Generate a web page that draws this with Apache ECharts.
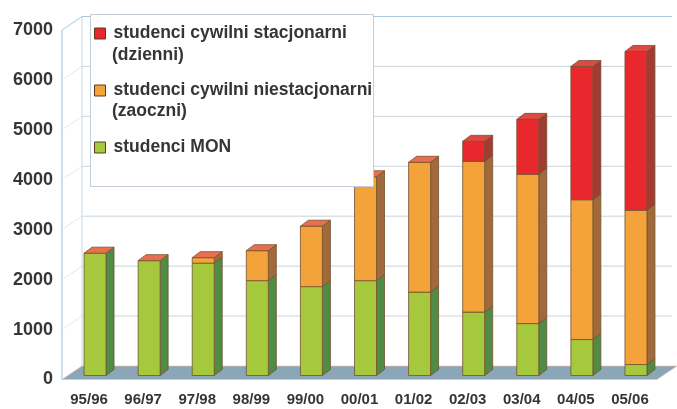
<!DOCTYPE html>
<html>
<head>
<meta charset="utf-8">
<script src="https://cdn.jsdelivr.net/npm/echarts@6/dist/echarts.min.js"></script>
<style>
  html, body { margin: 0; padding: 0; background: #ffffff; }
  #chart { width: 677px; height: 409px; }
</style>
</head>
<body>
<div id="chart"></div>
<script>
// Academic years
const categories = ['95/96', '96/97', '97/98', '98/99', '99/00', '00/01', '01/02', '02/03', '03/04', '04/05', '05/06'];
// Students per group (stacked from the bottom)
const mon = [2450, 2300, 2250, 1900, 1780, 1900, 1670, 1270, 1040, 720, 220];
const niestacjonarni = [0, 0, 110, 600, 1210, 2080, 2600, 3020, 2990, 2800, 3090];
const stacjonarni = [0, 0, 0, 0, 0, 0, 0, 400, 1100, 2670, 3180];
// Value axis ticks
const yTicks = [0, 1000, 2000, 3000, 4000, 5000, 6000, 7000];

const FONT = '"Liberation Sans", Arial, sans-serif';
const TEXT = '#353535';

// Pseudo-3D geometry: depth of the box and of each column
const DX = 20, DY = -13.5;          // wall / floor depth
const BX = 6, BY = -4;              // column front face offset inside the box
const BW = 22;                      // column width
const SX = 8, SY = -6;              // column depth

const groups = [
  { name: 'studenci MON', values: mon, front: '#a6c83c', side: '#4f8c46', cap: '#b8d45a' },
  { name: 'studenci cywilni niestacjonarni', values: niestacjonarni, front: '#f4a23a', side: '#a06a3a', cap: '#f6b45a' },
  { name: 'studenci cywilni stacjonarni', values: stacjonarni, front: '#e8282c', side: '#a03c34', cap: '#dc4a44' }
];

// running base for each stacked group
const bases = [];
groups.forEach((g, gi) => {
  bases.push(categories.map((_, i) => gi === 0 ? 0 : bases[gi - 1][i] + groups[gi - 1].values[i]));
});

const EDGE = '#74502e';

function columnRenderer(gi) {
  const g = groups[gi];
  const isTop = gi === groups.length - 1;
  return function (params, api) {
    const i = api.value(0);
    const v = api.value(1);
    const base = bases[gi][i];
    const pb = api.coord([i, base]);
    const pt = api.coord([i, base + v]);
    const cx = pb[0] + BX;
    const yb = pb[1] + BY;
    const yt = pt[1] + BY;
    const x0 = cx - BW / 2, x1 = cx + BW / 2;
    const children = [];
    if (v > 0) {
      children.push({
        type: 'polygon',
        shape: { points: [[x1, yb], [x1 + SX, yb + SY], [x1 + SX, yt + SY], [x1, yt]] },
        style: { fill: g.side, stroke: EDGE, lineWidth: 0.8 }
      });
      children.push({
        type: 'rect',
        shape: { x: x0, y: yt, width: BW, height: yb - yt },
        style: { fill: g.front, stroke: EDGE, lineWidth: 0.8 }
      });
    }
    if (isTop) {
      children.push({
        type: 'polygon',
        shape: { points: [[x0, yt], [x0 + SX, yt + SY], [x1 + SX, yt + SY], [x1, yt]] },
        style: { fill: v > 0 ? g.cap : '#e8704e', stroke: EDGE, lineWidth: 0.8 }
      });
    }
    return { type: 'group', children: children };
  };
}

// back wall grid lines, left wall and box outline
function wallRenderer(params, api) {
  const cs = params.coordSys;
  const v = api.value(1);
  const y = api.coord([0, v])[1];
  const left = cs.x, right = cs.x + cs.width;
  const maxV = yTicks[yTicks.length - 1];
  const children = [];
  const isTopLine = v === maxV;
  if (v > 0) {
    children.push({
      type: 'line',
      shape: { x1: left + DX, y1: y + DY, x2: right + DX - 5, y2: y + DY },
      style: { stroke: isTopLine ? '#a9c9e0' : '#cbd4dc', lineWidth: 1 }
    });
  }
  children.push({
    type: 'line',
    shape: { x1: left, y1: y, x2: left + DX, y2: y + DY },
    style: { stroke: isTopLine ? '#a9c9e0' : '#eee4e4', lineWidth: 1 }
  });
  if (v === 0) {
    const yTop = api.coord([0, maxV])[1];
    children.push({
      type: 'line',
      shape: { x1: left, y1: yTop, x2: left, y2: y },
      style: { stroke: '#a9c9e0', lineWidth: 1.2 }
    });
    children.push({
      type: 'line',
      shape: { x1: left + DX, y1: yTop + DY, x2: left + DX, y2: y + DY },
      style: { stroke: '#c3d8e8', lineWidth: 1 }
    });
  }
  return { type: 'group', children: children };
}

function floorRenderer(params, api) {
  const cs = params.coordSys;
  const y = api.coord([0, 0])[1];
  const left = cs.x, right = cs.x + cs.width;
  return {
    type: 'polygon',
    shape: { points: [[left, y], [right, y], [right + DX, y + DY], [left + DX, y + DY]] },
    style: { fill: '#8ba7b7', stroke: '#f0c0b0', lineWidth: 0.6 }
  };
}

const series = [
  {
    name: 'walls', type: 'custom', silent: true, z: 1,
    data: yTicks.map(v => [0, v]),
    renderItem: wallRenderer
  },
  {
    name: 'floor', type: 'custom', silent: true, z: 1,
    data: [[0, 0]],
    renderItem: floorRenderer
  }
];
groups.forEach((g, gi) => {
  series.push({
    name: g.name,
    type: 'custom',
    z: 2,
    itemStyle: { color: g.front },
    data: g.values.map((v, i) => [i, v]),
    renderItem: columnRenderer(gi)
  });
});

const chart = echarts.init(document.getElementById('chart'), null, { renderer: 'canvas' });
chart.setOption({
  backgroundColor: '#ffffff',
  animation: false,
  grid: { left: 62, right: 20, top: 30, bottom: 29.5, containLabel: false },
  xAxis: {
    type: 'category',
    data: categories,
    boundaryGap: true,
    axisLine: { show: false },
    axisTick: { show: false },
    axisLabel: {
      margin: 13,
      color: TEXT,
      fontFamily: FONT,
      fontWeight: 'bold',
      fontSize: 15
    },
    splitLine: { show: false }
  },
  yAxis: {
    type: 'value',
    min: 0,
    max: 7000,
    interval: 1000,
    axisLine: { show: false },
    axisTick: { show: false },
    splitLine: { show: false },
    axisLabel: {
      margin: 9,
      color: TEXT,
      fontFamily: FONT,
      fontWeight: 'bold',
      fontSize: 18,
      formatter: function (v) { return String(v); }
    }
  },
  legend: {
    orient: 'vertical',
    left: 94,
    top: 23.5,
    padding: 0,
    itemWidth: 11,
    itemHeight: 11,
    itemGap: 37,
    icon: 'rect',
    selectedMode: false,
    z: 60,
    data: ['studenci cywilni stacjonarni', 'studenci cywilni niestacjonarni', 'studenci MON'],
    itemStyle: { borderColor: '#5e3a22', borderWidth: 1 },
    textStyle: {
      fontFamily: FONT,
      fontWeight: 'bold',
      fontSize: 17.5,
      lineHeight: 20,
      color: TEXT,
      padding: [0, 0, 0, 3]
    }
  },
  graphic: [
    {
      type: 'rect', z: 50, silent: true,
      shape: { x: 90.5, y: 14.5, width: 283, height: 172 },
      style: { fill: '#ffffff', stroke: '#c4ced8', lineWidth: 1 }
    },
    {
      type: 'text', z: 61, silent: true, x: 112, y: 55,
      style: { text: '(dzienni)', fontFamily: FONT, fontWeight: 'bold', fontSize: 17.5, fill: TEXT, verticalAlign: 'middle' }
    },
    {
      type: 'text', z: 61, silent: true, x: 112, y: 111,
      style: { text: '(zaoczni)', fontFamily: FONT, fontWeight: 'bold', fontSize: 17.5, fill: TEXT, verticalAlign: 'middle' }
    }
  ],
  series: series
});
</script>
</body>
</html>
